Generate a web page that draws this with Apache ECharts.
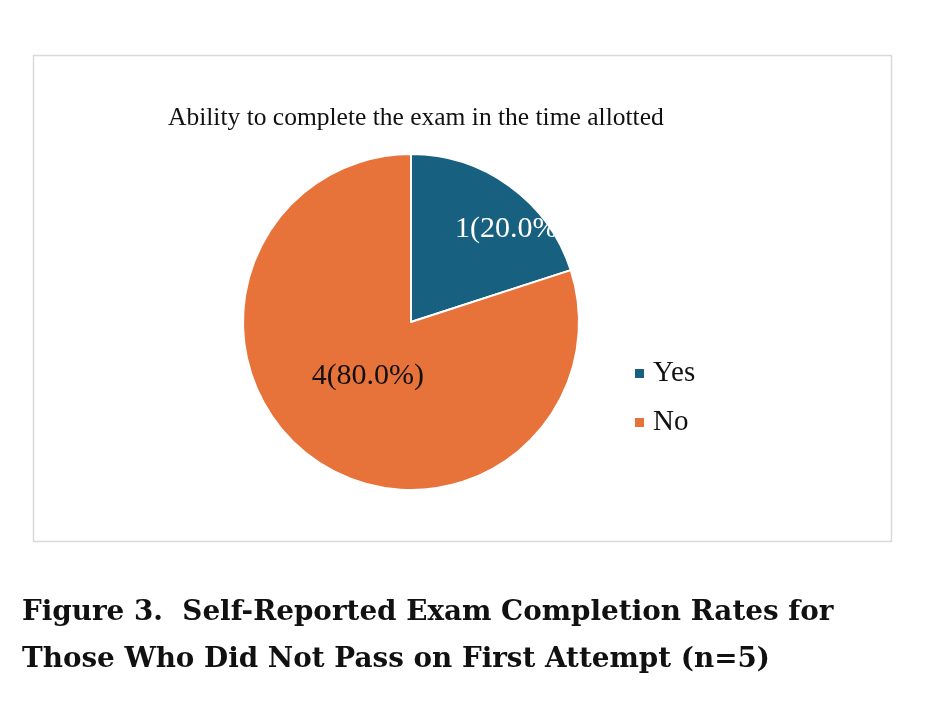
<!DOCTYPE html>
<html>
<head>
<meta charset="utf-8">
<script src="https://cdn.jsdelivr.net/npm/echarts@6/dist/echarts.min.js"></script>
<style>
html,body{margin:0;padding:0;background:#fff;}
#chart{width:940px;height:704px;}
</style>
</head>
<body>
<div id="chart"></div>
<script>
const categories = ["Yes", "No"];
const counts = [1, 4];
const colors = ["#17607f", "#e8733a"];
const chartTitle = "Ability to complete the exam in the time allotted";
const caption = "Figure 3.  Self-Reported Exam Completion Rates for\nThose Who Did Not Pass on First Attempt (n=5)";
const labelShift = [[49, -22], [8, -16]];
const labelColors = ["#ffffff", "#111111"];

const total = counts.reduce((a, b) => a + b, 0);
const chart = echarts.init(document.getElementById('chart'), null, {renderer: 'canvas'});
chart.setOption({
  backgroundColor: '#fff',
  animation: false,
  graphic: [{
    type: 'rect', left: 31, top: 53, shape: {width: 858, height: 486},
    style: {fill: 'none', stroke: '#d9d9d9', lineWidth: 1.5}, z: -1
  }],
  title: [{
    text: chartTitle, left: 163, top: 100,
    textStyle: {fontFamily: 'Liberation Serif', fontWeight: 'normal', fontSize: 25.5, color: '#111'}
  }, {
    text: caption, left: 17, top: 584,
    textStyle: {fontFamily: 'DejaVu Serif', fontWeight: 'bold', fontSize: 27.8, lineHeight: 47, color: '#111'}
  }],
  legend: {
    orient: 'vertical', left: 628, top: 354, icon: 'rect', itemWidth: 11, itemHeight: 11, itemGap: 20,
    textStyle: {fontFamily: 'Liberation Serif', fontSize: 29, color: '#111', padding: [0, 0, 0, 3]},
    data: categories
  },
  series: [{
    type: 'pie', center: [411, 322], radius: 168, startAngle: 90, clockwise: true,
    itemStyle: {borderColor: '#fff', borderWidth: 2},
    label: {
      position: 'inside', fontFamily: 'Liberation Serif', fontSize: 30,
      formatter: p => p.value + '(' + (p.value / total * 100).toFixed(1) + '%)'
    },
    labelLayout: p => ({dx: labelShift[p.dataIndex][0], dy: labelShift[p.dataIndex][1]}),
    emphasis: {disabled: true},
    data: categories.map((c, i) => ({
      name: c, value: counts[i],
      itemStyle: {color: colors[i]},
      label: {color: labelColors[i]}
    }))
  }]
});
</script>
</body>
</html>
